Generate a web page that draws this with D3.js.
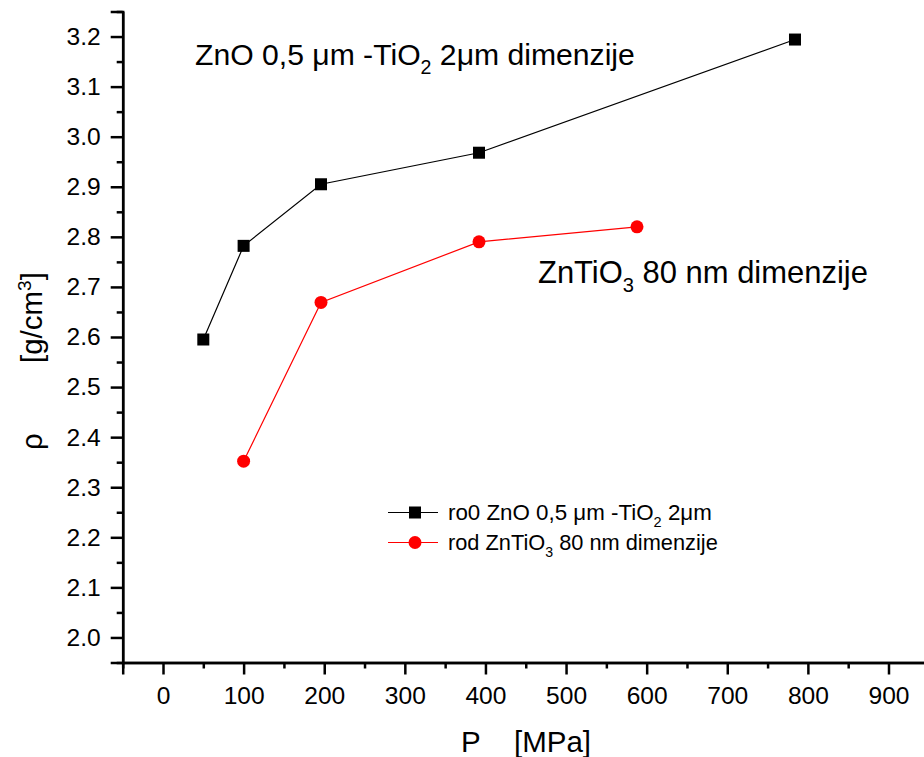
<!DOCTYPE html>
<html><head><meta charset="utf-8">
<script src="https://cdn.jsdelivr.net/npm/d3@7"></script>
<style>body{margin:0;background:#fff}svg{font-family:"Liberation Sans",Arial,sans-serif}</style>
</head><body><svg id="c" width="924" height="757"></svg>
<script>
const pressure0 = [50, 100, 196, 392, 784];
const rho0 = [2.595, 2.782, 2.905, 2.968, 3.194];
const pressureD = [100, 196, 392, 588];
const rhoD = [2.352, 2.669, 2.790, 2.820];
const xTicks = [0,100,200,300,400,500,600,700,800,900];
const yTicks = [2.0,2.1,2.2,2.3,2.4,2.5,2.6,2.7,2.8,2.9,3.0,3.1,3.2];

const svg = d3.select("#c");
const FONT = "Liberation Sans, Arial, sans-serif";
const x = d3.scaleLinear().domain([-50,950]).range([122.7,928.8]);
const y = d3.scaleLinear().domain([1.95,3.25]).range([662.5,11.5]);

// measure helper: font size giving a target width
function fitSize(build, base, target){
  const t = build(base);
  const w = t.node().getComputedTextLength ? t.node().getBBox().width : target;
  t.remove();
  return base * target / w;
}
const tickSize = fitSize(s=>svg.append("text").attr("font-size",s).attr("font-family",FONT).text("900"),24,41);

const xMinor = d3.range(-50,951,50).filter(v=>v%100!==0);
const yMinor = d3.range(1.95,3.26,0.1).map(v=>+v.toFixed(2));

const gx = svg.append("g").attr("transform",`translate(0,${y.range()[0]})`);
gx.call(d3.axisBottom(x).tickValues(xTicks).tickSize(12).tickPadding(12).tickFormat(d3.format("d")));
gx.append("g").call(d3.axisBottom(x).tickValues(xMinor).tickSize(6).tickFormat("").tickSizeOuter(0));
const gy = svg.append("g").attr("transform",`translate(${x.range()[0]},0)`);
gy.call(d3.axisLeft(y).tickValues(yTicks).tickSize(12).tickPadding(10).tickFormat(d3.format(".1f")));
gy.append("g").call(d3.axisLeft(y).tickValues(yMinor).tickSize(6).tickFormat("").tickSizeOuter(0));
[gx,gy].forEach(g=>{
  g.attr("font-family",FONT).attr("font-size",tickSize);
  g.selectAll(".domain").attr("stroke-width",2.5);
  g.selectAll(".tick line").attr("stroke-width",2.5);
  g.selectAll("text").attr("fill","#000");
});

// lines
const line = d3.line().x(d=>x(d[0])).y(d=>y(d[1]));
const s0 = pressure0.map((p,i)=>[p,rho0[i]]);
const sD = pressureD.map((p,i)=>[p,rhoD[i]]);
svg.append("path").datum(s0).attr("d",line).attr("fill","none").attr("stroke","#000").attr("stroke-width",1.2);
svg.append("path").datum(sD).attr("d",line).attr("fill","none").attr("stroke","#ff0000").attr("stroke-width",1.2);
svg.selectAll(".sq").data(s0).enter().append("rect")
  .attr("x",d=>x(d[0])-6).attr("y",d=>y(d[1])-6).attr("width",12).attr("height",12).attr("fill","#000");
svg.selectAll(".ci").data(sD).enter().append("circle")
  .attr("cx",d=>x(d[0])).attr("cy",d=>y(d[1])).attr("r",6.5).attr("fill","#ff0000");

// axis titles
svg.append("text").attr("x",461).attr("y",752).attr("font-size",29.5).text("P");
svg.append("text").attr("x",514).attr("y",752).attr("font-size",29.5).text("[MPa]");
svg.append("text").attr("transform","translate(42,450) rotate(-90)").attr("font-size",29.5).text("ρ");
const yt = svg.append("text").attr("transform","translate(42,363) rotate(-90)").attr("font-size",29.5);
yt.append("tspan").text("[g/cm");
yt.append("tspan").attr("font-size",19).attr("dy",-11).text("3");
yt.append("tspan").attr("dy",11).text("]");

// text with subscripts
function chem(x0, y0, size, parts){
  const tx = svg.append("text").attr("x",x0).attr("y",y0).attr("font-size",size).attr("xml:space","preserve");
  let down = 0;
  parts.forEach(p=>{
    if(p.sub){ const sh = size*0.3; tx.append("tspan").attr("dy",sh).attr("font-size",size*0.65).text(p.sub); down = sh; }
    else { tx.append("tspan").attr("dy",-down).text(p.t); down = 0; }
  });
  return tx;
}
function fitChem(x0,y0,base,target,parts){
  const s = fitSize(b=>chem(x0,y0,b,parts),base,target);
  return chem(x0,y0,s,parts);
}
fitChem(195,65,28,440,[{t:"ZnO 0,5 μm -TiO"},{sub:"2"},{t:" 2μm dimenzije"}]);
fitChem(538,283,28,330,[{t:"ZnTiO"},{sub:"3"},{t:" 80 nm dimenzije"}]);

// legend
const leg = [{c:"#000",shape:"sq",y:512.5,w:264,parts:[{t:"ro0 ZnO 0,5 μm -TiO"},{sub:"2"},{t:" 2μm"}]},
             {c:"#ff0000",shape:"ci",y:542.5,w:270,parts:[{t:"rod ZnTiO"},{sub:"3"},{t:" 80 nm dimenzije"}]}];
leg.forEach(l=>{
  svg.append("line").attr("x1",388).attr("x2",438).attr("y1",l.y).attr("y2",l.y).attr("stroke",l.c).attr("stroke-width",1.2);
  if(l.shape==="sq") svg.append("rect").attr("x",409).attr("y",l.y-6).attr("width",12).attr("height",12).attr("fill",l.c);
  else svg.append("circle").attr("cx",415).attr("cy",l.y).attr("r",6.5).attr("fill",l.c);
  fitChem(448,l.y+7.5,21,l.w,l.parts);
});
</script></body></html>
